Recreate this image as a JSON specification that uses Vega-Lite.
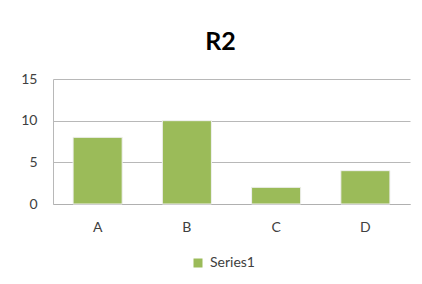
{
  "$schema": "https://vega.github.io/schema/vega-lite/v6.json",
  "width": 357,
  "height": 125,
  "autosize": {"type": "none"},
  "padding": {"left": 53, "top": 79, "right": 12, "bottom": 80},
  "background": "white",
  "title": {
    "text": "R2",
    "font": "Lato",
    "fontSize": 25,
    "fontWeight": "bold",
    "color": "#000000",
    "anchor": "middle",
    "dx": -11,
    "offset": 17
  },
  "data": {
    "values": [
      {"category": "A", "value": 8, "series": "Series1"},
      {"category": "B", "value": 10, "series": "Series1"},
      {"category": "C", "value": 2, "series": "Series1"},
      {"category": "D", "value": 4, "series": "Series1"}
    ]
  },
  "mark": {"type": "bar", "stroke": "#f0f0f0", "strokeWidth": 1},
  "encoding": {
    "x": {
      "field": "category",
      "type": "nominal",
      "scale": {"paddingInner": 0.45, "paddingOuter": 0.225},
      "axis": {
        "title": null,
        "labelAngle": 0,
        "labelFont": "Lato",
        "labelFontSize": 14,
        "labelColor": "#404040",
        "labelPadding": 16,
        "ticks": false,
        "domainColor": "#b0b0b0",
        "domainWidth": 1
      }
    },
    "y": {
      "field": "value",
      "type": "quantitative",
      "scale": {"domain": [0, 15], "nice": false},
      "axis": {
        "title": null,
        "values": [0, 5, 10, 15],
        "labelFont": "Lato",
        "labelFontSize": 14,
        "labelColor": "#404040",
        "labelPadding": 16,
        "ticks": false,
        "grid": true,
        "gridColor": "#b8b8b8",
        "gridWidth": 1,
        "domainColor": "#b8b8b8",
        "domainWidth": 1
      }
    },
    "color": {
      "field": "series",
      "type": "nominal",
      "scale": {"range": ["#9BBB59"]},
      "legend": {
        "title": null,
        "orient": "none",
        "legendX": 138,
        "legendY": 177,
        "padding": 0,
        "symbolType": "square",
        "symbolSize": 81,
        "symbolStrokeWidth": 0,
        "labelFont": "Lato",
        "labelFontSize": 14,
        "labelColor": "#404040",
        "labelOffset": 5
      }
    }
  },
  "config": {"view": {"stroke": null}}
}
